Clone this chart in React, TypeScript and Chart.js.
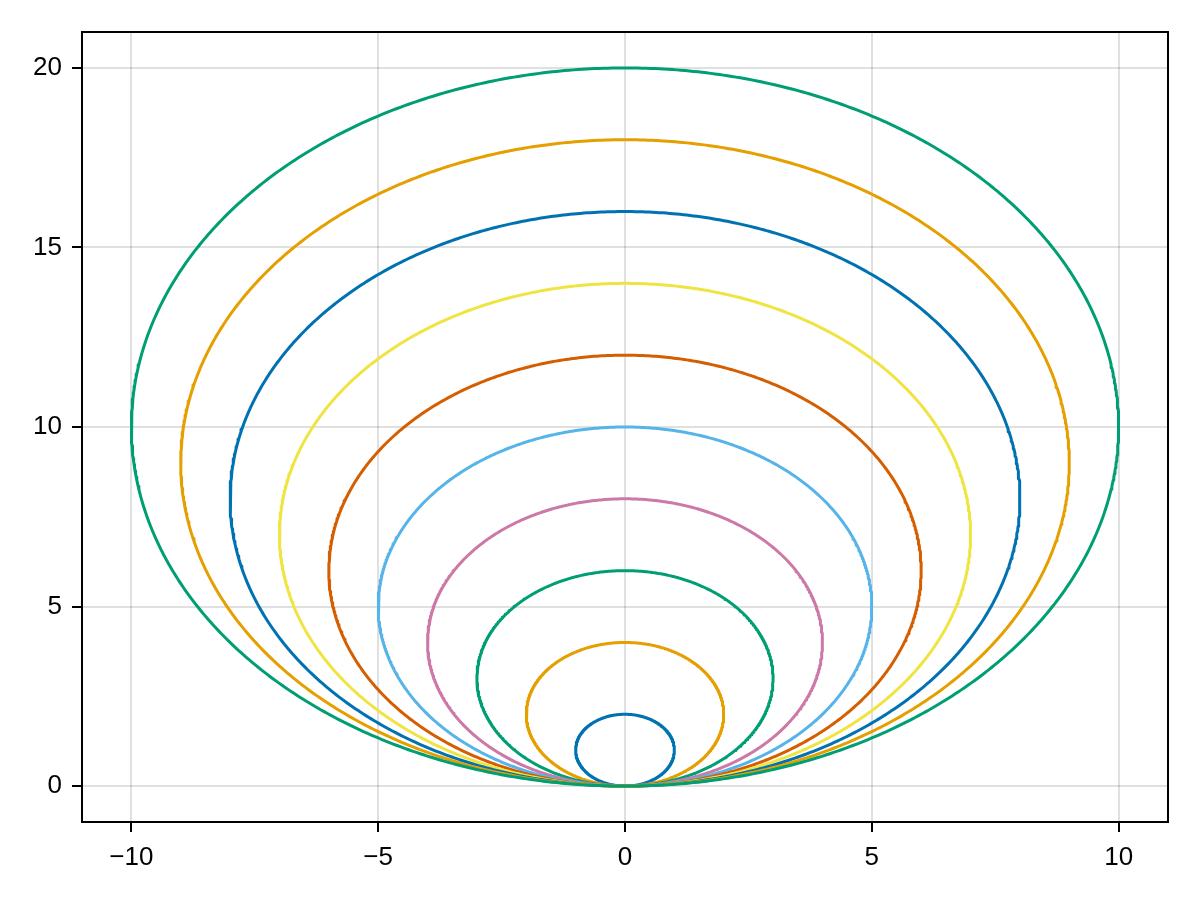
import React, { useEffect, useRef } from "react";
import { Chart, registerables } from "chart.js";

Chart.register(...registerables);

const radii: number[] = [1, 2, 3, 4, 5, 6, 7, 8, 9, 10];
const colors: string[] = [
  "#0072B2", "#E69F00", "#009E73", "#CC79A7", "#56B4E9",
  "#D55E00", "#F0E442", "#0072B2", "#E69F00", "#009E73",
];
const xTicks: number[] = [-10, -5, 0, 5, 10];
const yTicks: number[] = [0, 5, 10, 15, 20];
const xRange: [number, number] = [-11, 11];
const yRange: [number, number] = [-1, 21];
const SAMPLES = 720;

function circlePoints(r: number) {
  const pts: { x: number; y: number }[] = [];
  for (let i = 0; i <= SAMPLES; i++) {
    const t = (2 * Math.PI * i) / SAMPLES;
    pts.push({ x: r * Math.sin(t), y: r - r * Math.cos(t) });
  }
  return pts;
}

const framePlugin = {
  id: "frame",
  afterDraw(chart: any) {
    const { ctx, chartArea } = chart;
    ctx.save();
    ctx.strokeStyle = "#000";
    ctx.lineWidth = 2;
    ctx.strokeRect(chartArea.left, chartArea.top, chartArea.right - chartArea.left, chartArea.bottom - chartArea.top);
    ctx.restore();
  },
};

export default function App() {
  const ref = useRef<HTMLCanvasElement>(null);
  useEffect(() => {
    document.body.style.margin = "0";
    const font = { family: "'Liberation Sans', Arial, Helvetica, sans-serif", size: 26 };
    const chart = new Chart(ref.current!, {
      type: "scatter",
      data: {
        datasets: radii.map((r, i) => ({
          data: circlePoints(r),
          borderColor: colors[i],
          backgroundColor: colors[i],
          borderWidth: 3,
          showLine: true,
          pointRadius: 0,
          tension: 0,
          borderJoinStyle: "round",
          order: radii.length - i,
        })),
      },
      options: {
        responsive: false,
        animation: false,
        layout: { padding: { top: 32, right: 32, left: 0, bottom: 0 } },
        plugins: { legend: { display: false }, tooltip: { enabled: false } },
        scales: {
          x: {
            type: "linear",
            min: xRange[0],
            max: xRange[1],
            afterBuildTicks: (s: any) => { s.ticks = xTicks.map((v) => ({ value: v })); },
            afterFit: (s: any) => { s.height = 78; },
            grid: { color: "rgba(0,0,0,0.12)", lineWidth: 2, tickLength: 10, tickColor: "#000", tickWidth: 2 },
            border: { display: false },
            ticks: { color: "#000", font, padding: 10, maxRotation: 0, callback: (v: any) => (v < 0 ? "\u2212" + Math.abs(v) : String(v)) },
          },
          y: {
            type: "linear",
            min: yRange[0],
            max: yRange[1],
            afterBuildTicks: (s: any) => { s.ticks = yTicks.map((v) => ({ value: v })); },
            afterFit: (s: any) => { s.width = 82; },
            grid: { color: "rgba(0,0,0,0.12)", lineWidth: 2, tickLength: 10, tickColor: "#000", tickWidth: 2 },
            border: { display: false },
            ticks: { color: "#000", font, padding: 10, callback: (v: any) => String(v) },
          },
        },
      },
      plugins: [framePlugin],
    } as any);
    return () => chart.destroy();
  }, []);
  return (
    <div style={{ position: "absolute", left: 0, top: 0, width: 1200, height: 900, background: "#fff" }}>
      <canvas ref={ref} width={1200} height={900} />
    </div>
  );
}
